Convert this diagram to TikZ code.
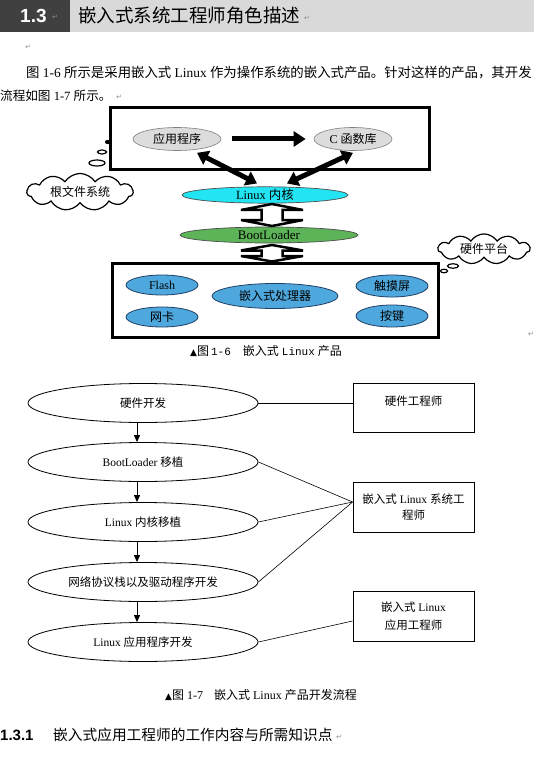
\documentclass[tikz,border=0pt]{standalone}
\usepackage{fontspec}
\setmainfont{Liberation Serif}
\newfontfamily\cjk{Noto Sans CJK SC}
\newfontfamily\hei{Liberation Sans}
\newfontfamily\sym{DejaVu Sans}
\newfontfamily\mono{Liberation Mono}
\usetikzlibrary{shapes.geometric,shapes.symbols,arrows.meta}
\newcommand\z[1]{{\cjk #1}}
\newcommand\fs[1]{\fontsize{#1}{#1}\selectfont}
\definecolor{hdrdark}{HTML}{404040}
\definecolor{hdrlight}{HTML}{D9D9D9}
\definecolor{grayfill}{HTML}{DCDCDC}
\definecolor{cyanfill}{HTML}{22E4F2}
\definecolor{greenfill}{HTML}{5DB458}
\definecolor{bluefill}{HTML}{4EA8DE}
\definecolor{blueedge}{HTML}{1F3F66}
\definecolor{retmark}{HTML}{8C8C8C}
\begin{document}
\begin{tikzpicture}[x=1pt,y=-1pt,
  every node/.style={inner sep=0pt},
  ret/.style={font=\sym\fs{7}, text=retmark},
  thickbox/.style={draw, line width=3pt, fill=white},
  grayell/.style={ellipse, draw=gray, line width=0.6pt, fill=grayfill, font=\fs{12}},
  blueell/.style={ellipse, draw=blueedge, line width=0.8pt, fill=bluefill, font=\fs{12}},
  bigarrow/.style={line width=5pt, -{Triangle[length=12pt,width=15pt]}},
  bigdbl/.style={line width=5pt, {Triangle[length=11pt,width=15pt]}-{Triangle[length=11pt,width=15pt]}},
  blockar/.style={draw, line width=2.5pt, fill=white, line join=miter},
  bubble/.style={ellipse, draw, line width=1.2pt, fill=white},
  thought/.style={cloud, cloud puffs=11, cloud puff arc=115, draw, line width=1.2pt, fill=white, font=\fs{12}},
  flowell/.style={ellipse, draw, line width=0.8pt, fill=white, minimum width=230pt, minimum height=39pt, font=\fs{11.5}},
  flowbox/.style={draw, line width=0.9pt, fill=white, minimum width=121pt, font=\fs{11.5}, align=center},
  flowar/.style={line width=0.9pt, -{Triangle[length=7pt,width=6pt]}},
  flowln/.style={line width=0.6pt}
]
\useasboundingbox (0,0) rectangle (534,759);
\fill[white] (0,0) rectangle (534,759);

% header
\fill[hdrdark] (0,0) rectangle (70,32);
\fill[hdrlight] (70,0) rectangle (534,32);
\node[anchor=west, text=white, font=\hei\bfseries\fs{19}] (sec) at (20,16) {1.3};
\node[ret] (r0) at (55,17) {↵};
\node[anchor=west, font=\cjk\fs{18.5}] (title) at (78,16) {嵌入式系统工程师角色描述};
\node[ret] (r1m) at (307,18) {↵};
\node[ret] (r2m) at (28,47) {↵};

% paragraph
\node[anchor=west, font=\fs{13.4}] (p1) at (26,73) {\z{图} 1-6 \z{所示是采用嵌入式} Linux \z{作为操作系统的嵌入式产品。针对这样的产品，其开发}};
\node[anchor=west, font=\fs{12.6}] (p2) at (0,96) {\z{流程如图} 1-7 \z{所示。}};
\node[ret] (r3m) at (119,97) {↵};

% ---------- figure 1-6 ----------
\node[thickbox, minimum width=319pt, minimum height=62pt] (topbox) at (269.5,139) {};
\node[grayell, minimum width=88pt, minimum height=23pt] (app) at (177,139) {\z{应用程序}};
\node[grayell, minimum width=78pt, minimum height=23pt] (clib) at (353,139) {C \z{函数库}};
\draw[bigarrow, shorten <=11pt, shorten >=8pt] (app.east) -- (clib.west);

% thought bubbles and clouds
\node[bubble, minimum width=16pt, minimum height=6pt] (b1) at (97,163) {};
\node[bubble, minimum width=9pt, minimum height=4pt] (b2) at (102,152) {};
\node[bubble, fill=black, minimum width=5pt, minimum height=3pt] (b3) at (108,142) {};
\node[thought, minimum width=106pt, minimum height=31pt, aspect=3.4] (rootfs) at (80,192) {\z{根文件系统}};

\node[ellipse, draw=black!70, line width=0.7pt, fill=cyanfill, minimum width=166pt, minimum height=15pt, font=\fs{12.5}] (kernel) at (265,195) {Linux \z{内核}};
\node[ellipse, draw=black!70, line width=0.7pt, fill=greenfill, minimum width=178pt, minimum height=16pt, font=\fs{13}] (boot) at (269,235) {BootLoader};

\draw[bigdbl] ([xshift=20pt,yshift=-2pt]app.south) -- ([xshift=-8pt,yshift=3pt]kernel.north);
\draw[bigdbl] ([yshift=-2pt]clib.south) -- ([xshift=22pt,yshift=3pt]kernel.north);

% block double arrows
\draw[blockar] (272,204) -- (303,210) -- (282.5,210) -- (282.5,220) -- (303,220) -- (272,226) -- (241,220) -- (261.5,220) -- (261.5,210) -- (241,210) -- cycle;
\draw[blockar] (272,245) -- (303,250.5) -- (282.5,250.5) -- (282.5,256) -- (303,256) -- (272,261.5) -- (241,256) -- (261.5,256) -- (261.5,250.5) -- (241,250.5) -- cycle;

\node[thickbox, minimum width=326pt, minimum height=74pt] (hwbox) at (275,300) {};
\node[blueell, minimum width=72pt, minimum height=20pt] (flash) at (162,285) {Flash};
\node[blueell, minimum width=72pt, minimum height=20pt] (nic) at (162,317) {\z{网卡}};
\node[blueell, minimum width=126pt, minimum height=25pt] (cpu) at (275,296) {\z{嵌入式处理器}};
\node[blueell, minimum width=72pt, minimum height=22pt] (touch) at (392,286) {\z{触摸屏}};
\node[blueell, minimum width=72pt, minimum height=22pt] (keys) at (392,316) {\z{按键}};

\node[bubble, minimum width=11pt, minimum height=4.5pt] (b4) at (453,266) {};
\node[bubble, minimum width=7pt, minimum height=3.5pt] (b5) at (444,271) {};
\node[thought, minimum width=92pt, minimum height=28pt, aspect=3.3] (hwplat) at (484,249) {\z{硬件平台}};

\node[anchor=west, font=\fs{12}] (cap1) at (190,351) {{\sym\fs{9}▲}\z{图}\hspace{2pt}{\mono\fs{11}1-6}\hspace{12pt}\z{嵌入式}\hspace{3pt}{\mono\fs{11}Linux}\hspace{3pt}\z{产品}};
\node[ret] (r4m) at (531,334) {↵};

% ---------- figure 1-7 ----------
\node[flowell] (e1) at (143,403) {\z{硬件开发}};
\node[flowell] (e2) at (143,462) {BootLoader \z{移植}};
\node[flowell] (e3) at (143,522) {Linux \z{内核移植}};
\node[flowell] (e4) at (143,582) {\z{网络协议栈以及驱动程序开发}};
\node[flowell] (e5) at (143,642) {Linux \z{应用程序开发}};

\foreach \a/\b in {e1/e2,e2/e3,e3/e4,e4/e5}
  \draw[flowar] ([xshift=-6pt]\a.south) -- ([xshift=-6pt]\b.north);

\node[flowbox, minimum height=49pt] (hweng) at (413.5,407.5) {};
\node[font=\fs{11.5}] (hwengt) at (413.5,401) {\z{硬件工程师}};
\node[flowbox, minimum height=50pt] (syseng) at (413.5,507) {\z{嵌入式} Linux \z{系统工}\\[5pt]\z{程师}};
\node[flowbox, minimum height=50pt] (appeng) at (413.5,616) {\z{嵌入式} Linux\\[6pt]\z{应用工程师}};

\draw[flowln] (e1.east) -- (e1.east -| hweng.west);
\draw[flowln] (e2.east) -- ([yshift=5pt]syseng.west);
\draw[flowln] (e3.east) -- ([yshift=5pt]syseng.west);
\draw[flowln] (e4.east) -- ([yshift=5pt]syseng.west);
\draw[flowln] (e5.east) -- ([yshift=-5pt]appeng.west);

\node[anchor=west, font=\fs{12}] (cap2) at (165,695) {{\sym\fs{9}▲}\z{图} 1-7\hspace{11pt}\z{嵌入式} Linux \z{产品开发流程}};

% section heading
\node[anchor=west, font=\hei\bfseries\fs{15}] (sub) at (0,735) {1.3.1};
\node[anchor=west, font=\cjk\fs{14.7}] (subt) at (53,735) {嵌入式应用工程师的工作内容与所需知识点};
\node[ret] (r5m) at (339,737) {↵};
\end{tikzpicture}
\end{document}
